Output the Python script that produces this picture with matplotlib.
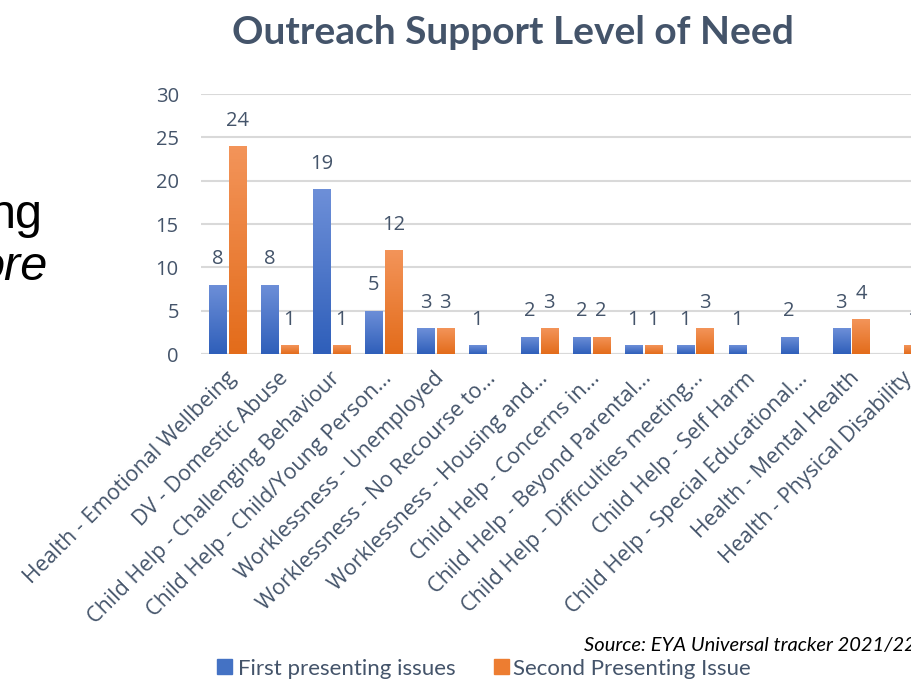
"""Outreach Support Level of Need - grouped bar chart (cropped slide view)."""

import matplotlib.pyplot as plt
import numpy as np
from matplotlib.colors import LinearSegmentedColormap
from matplotlib.patches import Rectangle

CATEGORIES = [
    "Health - Emotional Wellbeing",
    "DV - Domestic Abuse",
    "Child Help - Challenging Behaviour",
    "Child Help - Child/Young Person...",
    "Worklessness - Unemployed",
    "Worklessness - No Recourse to...",
    "Worklessness - Housing and...",
    "Child Help - Concerns in...",
    "Child Help - Beyond Parental...",
    "Child Help - Difficulties meeting...",
    "Child Help - Self Harm",
    "Child Help - Special Educational...",
    "Health - Mental Health",
    "Health - Physical Disability",
]
FIRST = [8, 8, 19, 5, 3, 1, 2, 2, 1, 1, 1, 2, 3, None]
SECOND = [24, 1, 1, 12, 3, None, 3, 2, 1, 3, None, None, 4, 1]
SERIES_NAMES = ["First presenting issues", "Second Presenting Issue"]

TITLE_FONT = "Lato"
AXIS_FONT = "Open Sans"
TEXT = "#44546A"
BLUE_TOP, BLUE_BOT = "#6D8FD8", "#2F5FBA"
ORANGE_TOP, ORANGE_BOT = "#F39459", "#E36C1B"


def gradient_bars(ax, bars, top, bottom):
    cmap = LinearSegmentedColormap.from_list("g", [bottom, top])
    grad = np.linspace(0, 1, 64).reshape(-1, 1)
    for b in bars:
        if b.get_height() <= 0:
            continue
        x0, y0 = b.get_x(), b.get_y()
        im = ax.imshow(grad, cmap=cmap, origin="lower", aspect="auto",
                       extent=(x0, x0 + b.get_width(), y0, y0 + b.get_height()),
                       zorder=3)
        im.set_clip_path(b)


def main() -> None:
    fig = plt.figure(figsize=(9.12, 6.79), dpi=100)
    x = np.arange(len(CATEGORIES))
    first = np.array([np.nan if v is None else v for v in FIRST], dtype=float)
    second = np.array([np.nan if v is None else v for v in SECOND], dtype=float)

    # axes run past the right edge, like the cropped slide
    ax = fig.add_axes([201 / 912, 1 - 354 / 679, 728 / 912, 260 / 679])
    w, off = 0.33, 0.19
    b1 = ax.bar(x - off, np.nan_to_num(first), w, color=BLUE_BOT, zorder=2)
    b2 = ax.bar(x + off, np.nan_to_num(second), w, color=ORANGE_BOT, zorder=2)
    gradient_bars(ax, b1, BLUE_TOP, BLUE_BOT)
    gradient_bars(ax, b2, ORANGE_TOP, ORANGE_BOT)

    for xs, vals in ((x - off, first), (x + off, second)):
        for xi, v in zip(xs, vals):
            if np.isnan(v):
                continue
            ax.annotate(f"{int(v)}", (xi, v), xytext=(0, 11), textcoords="offset points",
                        ha="center", va="bottom", fontsize=14.5, color=TEXT,
                        family=AXIS_FONT, zorder=5)

    ax.set_xlim(-0.51, 13.5)
    ax.set_ylim(0, 30)
    ax.set_yticks(range(0, 31, 5))
    ax.yaxis.grid(True, color="#D9D9D9", lw=1.5, zorder=0)
    ax.set_axisbelow(True)
    for s in ax.spines.values():
        s.set_visible(False)
    ax.axhline(0, color="#D9D9D9", lw=1.5, zorder=1)
    ax.tick_params(axis="y", length=0, labelsize=14.5, labelcolor=TEXT, pad=16)
    ax.tick_params(axis="x", length=0, labelcolor=TEXT, pad=10)
    ax.set_xticks(x - 0.04)
    ax.set_xticklabels(CATEGORIES, rotation=45, ha="right", va="top",
                       rotation_mode="anchor", family=AXIS_FONT, fontsize=15.5)
    for lab in ax.get_yticklabels():
        lab.set_family(AXIS_FONT)
    ax.set_facecolor("none")

    fig.text(513 / 912, 1 - 32 / 679, "Outreach Support Level of Need", ha="center",
             va="center", fontsize=28, fontweight="bold", color=TEXT,
             family=TITLE_FONT)

    # slide text cut off at the left edge
    fig.text(43 / 912, 1 - 228 / 679, "ng", ha="right", va="baseline",
             fontsize=35, color="black", family="Liberation Sans")
    fig.text(48 / 912, 1 - 280 / 679, "ore", ha="right", va="baseline",
             fontsize=35, color="black", family="Liberation Sans", style="italic")

    fig.text(584 / 912, 1 - 651 / 679, "Source: EYA Universal tracker 2021/22",
             ha="left", va="baseline", fontsize=14.5, style="italic", color="black",
             family=TITLE_FONT)

    # legend
    for (lx, tx, name, col) in ((217, 238, SERIES_NAMES[0], "#4472C4"),
                                (494, 513, SERIES_NAMES[1], "#ED7D31")):
        fig.patches.append(Rectangle((lx / 912, 1 - 674 / 679), 15 / 912, 15 / 679,
                                     transform=fig.transFigure, color=col))
        fig.text(tx / 912, 1 - 675 / 679, name, ha="left", va="baseline",
                 fontsize=16, color=TEXT, family=TITLE_FONT)

    fig.savefig("out.png", dpi=100, facecolor="white")


if __name__ == "__main__":
    main()
